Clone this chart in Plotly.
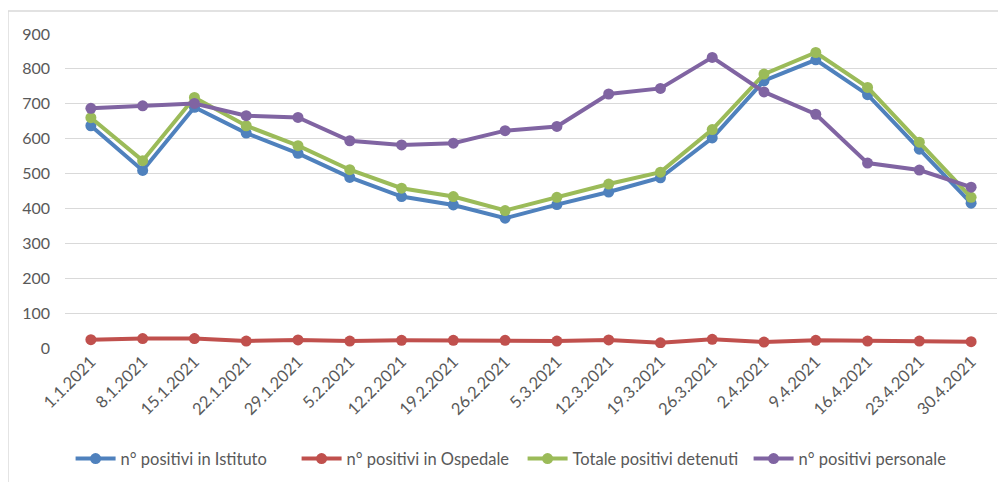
import plotly.graph_objects as go

# settimane (date delle rilevazioni)
dates = ['1.1.2021', '8.1.2021', '15.1.2021', '22.1.2021', '29.1.2021', '5.2.2021',
         '12.2.2021', '19.2.2021', '26.2.2021', '5.3.2021', '12.3.2021', '19.3.2021',
         '26.3.2021', '2.4.2021', '9.4.2021', '16.4.2021', '23.4.2021', '30.4.2021']

# valori
istituto = [637, 509, 690, 616, 558, 489, 434, 410, 372, 411, 447, 488, 602, 766, 826, 726, 570, 415]
ospedale = [24, 27, 27, 20, 23, 20, 22, 22, 22, 20, 23, 15, 25, 17, 22, 20, 20, 18]
totale = [660, 537, 718, 637, 580, 511, 458, 434, 394, 432, 470, 504, 626, 785, 847, 747, 590, 432]
personale = [687, 694, 701, 666, 661, 594, 582, 587, 623, 635, 728, 744, 833, 734, 670, 530, 510, 461]

names = ['n° positivi in Istituto', 'n° positivi in Ospedale', 'Totale positivi detenuti', 'n° positivi personale']
colors = ['#4F81BD', '#C0504D', '#9BBB59', '#8064A2']
series = [istituto, ospedale, totale, personale]

fig = go.Figure()
for name, vals, col in zip(names, series, colors):
    fig.add_trace(go.Scatter(x=dates, y=vals, name=name, mode='lines+markers',
                             line=dict(color=col, width=4),
                             marker=dict(color=col, size=11)))

# cornice grigia (bordo sinistro e superiore)
fig.add_shape(type='line', xref='paper', yref='paper', x0=-0.0612, x1=1.03, y0=1.073, y1=1.073,
              line=dict(color='#d9d9d9', width=1.5))
fig.add_shape(type='line', xref='paper', yref='paper', x0=-0.0612, x1=-0.0612, y0=1.073, y1=-0.5,
              line=dict(color='#d9d9d9', width=1.5))

# la pagina ha ~8px di margine del body: compenso nei margini
fig.update_layout(
    width=1006, height=482,
    margin=dict(l=57, r=17, t=26, b=142),
    paper_bgcolor='white', plot_bgcolor='white',
    font=dict(family='Lato, Liberation Sans, sans-serif', color='#595959', size=16.5),
    showlegend=True,
    legend=dict(orientation='h', x=0.006, xanchor='left', y=-0.353, yanchor='middle',
                font=dict(size=16.5, color='#595959'), itemwidth=40, tracegroupgap=0,
                entrywidth=171, entrywidthmode='pixels'),
)
fig.update_xaxes(type='category', range=[-0.5, 17.5], tickangle=-45, showgrid=False,
                 showline=False, ticks='', automargin=False,
                 tickfont=dict(size=16.5, color='#595959'))
fig.update_yaxes(range=[0, 900], dtick=100, showgrid=True, gridcolor='#d9d9d9', gridwidth=1,
                 zeroline=False, showline=False, ticks='', ticklabelstandoff=14, automargin=False,
                 tickfont=dict(size=16, color='#595959'))

fig.write_html('out.html')
